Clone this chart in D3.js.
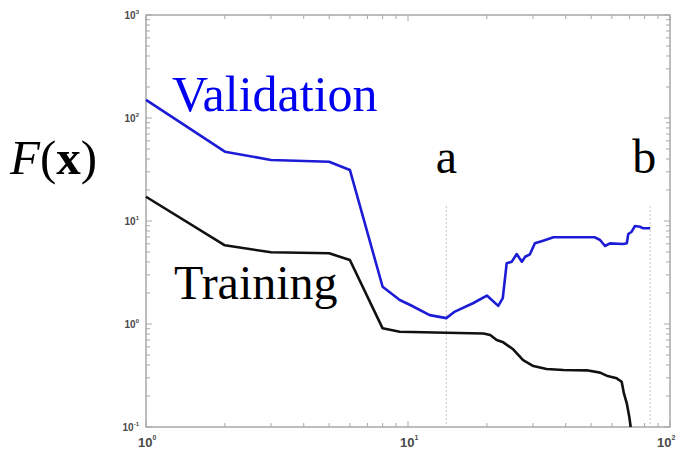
<!DOCTYPE html>
<html>
<head>
<meta charset="utf-8">
<script src="https://cdn.jsdelivr.net/npm/d3@7/dist/d3.min.js"></script>
<style>
  html, body { margin: 0; padding: 0; background: #fff; }
  svg { display: block; }
</style>
</head>
<body>
<svg id="chart" width="676" height="449"></svg>
<script>
// Validation error curve F(x)
const validationX = [1, 2, 3, 5, 6, 8, 9.3, 10.2, 12.1, 14, 15.1, 17.7, 20, 22.1, 23, 23.8, 24.9, 26, 27.2, 28, 29.2, 30.5, 32.8, 35.9, 44, 51.7, 54.1, 56.5, 59, 66.3, 68.4, 69.3, 71.4, 73.5, 76.8, 79.1, 84];
const validationF = [150, 47.1, 39.1, 37.6, 31.3, 2.3, 1.71, 1.53, 1.22, 1.14, 1.32, 1.59, 1.89, 1.5, 1.78, 3.88, 4.03, 4.78, 4.03, 4.5, 4.75, 6.07, 6.44, 6.95, 6.95, 6.95, 6.54, 5.72, 6.07, 5.98, 6.07, 7.48, 7.87, 8.94, 8.8, 8.49, 8.49];

// Training error curve F(x)
const trainingX = [1, 2, 3, 5, 6, 8, 9.3, 14, 19.4, 20.6, 21.8, 23.1, 25.2, 27.5, 30.1, 33.8, 39.2, 48.1, 54.1, 57.3, 62.6, 65.4, 66.7, 68.4, 69.9, 70.8];
const trainingF = [17.2, 5.81, 4.97, 4.86, 4.18, 0.908, 0.842, 0.823, 0.809, 0.782, 0.699, 0.664, 0.568, 0.447, 0.391, 0.366, 0.358, 0.355, 0.337, 0.315, 0.297, 0.275, 0.212, 0.17, 0.126, 0.1];

// Marked iterations and their labels
const markerX = [14, 84];
const markerLabels = ["a", "b"];
const markerTopF = 14;

// Axis extents and decade tick labels
const xDomain = [1, 100];
const yDomain = [0.1, 1000];
const xDecades = [0, 1, 2];
const yDecades = [-1, 0, 1, 2, 3];

(function draw() {
  const svg = d3.select("#chart");
  const pLeft = 146, pRight = 670, pTop = 15, pBottom = 427;

  const x = d3.scaleLog().domain(xDomain).range([pLeft, pRight]);
  const y = d3.scaleLog().domain(yDomain).range([pBottom, pTop]);

  const axisColor = "#a8a8a8";
  const labelColor = "#4a4a4a";

  // Minor and major ticks on all four sides, pointing inward
  const xTicks = x.ticks();
  const yTicks = y.ticks();
  const isMajor = v => Math.abs(Math.log10(v) - Math.round(Math.log10(v))) < 1e-9;
  const tickLen = v => isMajor(v) ? 6 : 4;

  const ticks = svg.append("g").attr("stroke", axisColor).attr("stroke-width", 1);
  ticks.append("g").selectAll("line").data(xTicks).join("line")
    .attr("x1", d => x(d)).attr("x2", d => x(d))
    .attr("y1", pBottom).attr("y2", d => pBottom - tickLen(d));
  ticks.append("g").selectAll("line").data(xTicks).join("line")
    .attr("x1", d => x(d)).attr("x2", d => x(d))
    .attr("y1", pTop).attr("y2", d => pTop + tickLen(d));
  ticks.append("g").selectAll("line").data(yTicks).join("line")
    .attr("y1", d => y(d)).attr("y2", d => y(d))
    .attr("x1", pLeft).attr("x2", d => pLeft + tickLen(d));
  ticks.append("g").selectAll("line").data(yTicks).join("line")
    .attr("y1", d => y(d)).attr("y2", d => y(d))
    .attr("x1", pRight).attr("x2", d => pRight - tickLen(d));

  // Frame
  svg.append("rect")
    .attr("x", pLeft).attr("y", pTop)
    .attr("width", pRight - pLeft).attr("height", pBottom - pTop)
    .attr("fill", "none").attr("stroke", axisColor).attr("stroke-width", 1.5);

  // Decade labels
  const labs = svg.append("g")
    .attr("font-family", "Arial, 'Liberation Sans', sans-serif")
    .attr("font-weight", "bold").attr("fill", labelColor);
  yDecades.forEach(p => {
    const t = labs.append("text")
      .attr("x", pLeft - 7).attr("y", y(Math.pow(10, p)) + 4)
      .attr("text-anchor", "end").attr("font-size", 10);
    t.append("tspan").text("10");
    t.append("tspan").attr("font-size", 6).attr("dy", -5).text(p);
  });
  xDecades.forEach((p, i) => {
    // the last label sits against the window edge, so it is pulled in to stay whole
    const last = i === xDecades.length - 1;
    const t = labs.append("text")
      .attr("x", last ? 657 : x(Math.pow(10, p)) - 8).attr("y", 447)
      .attr("text-anchor", "start").attr("font-size", 13);
    t.append("tspan").text("10");
    t.append("tspan").attr("font-size", 7).attr("dy", -7).text(p);
  });

  // Dotted marker lines
  svg.append("g").selectAll("line").data(markerX).join("line")
    .attr("x1", d => x(d)).attr("x2", d => x(d))
    .attr("y1", y(markerTopF)).attr("y2", pBottom)
    .attr("stroke", "#c4c4c4").attr("stroke-width", 1)
    .attr("stroke-dasharray", "2,2");

  // Curves
  const line = d3.line().x(d => x(d[0])).y(d => y(d[1]));
  svg.append("path")
    .datum(trainingX.map((v, i) => [v, trainingF[i]]))
    .attr("d", line).attr("fill", "none")
    .attr("stroke", "#111").attr("stroke-width", 2.6)
    .attr("stroke-linejoin", "round");
  svg.append("path")
    .datum(validationX.map((v, i) => [v, validationF[i]]))
    .attr("d", line).attr("fill", "none")
    .attr("stroke", "#1c1cd6").attr("stroke-width", 2.6)
    .attr("stroke-linejoin", "round");

  // Annotations
  const serif = "'Liberation Serif', 'Times New Roman', serif";
  svg.append("text").attr("x", 172).attr("y", 111)
    .attr("font-family", serif).attr("font-size", 50).attr("fill", "#0000f0")
    .text("Validation");
  svg.append("text").attr("x", 174).attr("y", 299)
    .attr("font-family", serif).attr("font-size", 48).attr("fill", "#000")
    .text("Training");
  svg.append("g").selectAll("text").data(markerLabels).join("text")
    .attr("x", (d, i) => i === 0 ? x(markerX[i]) : x(markerX[i]) - 6)
    .attr("y", 173)
    .attr("text-anchor", "middle")
    .attr("font-family", serif).attr("font-size", 48).attr("fill", "#000")
    .text(d => d);

  const fx = svg.append("text").attr("x", 10).attr("y", 174)
    .attr("font-family", serif).attr("font-size", 49).attr("fill", "#000");
  fx.append("tspan").attr("font-style", "italic").text("F");
  fx.append("tspan").text("(");
  fx.append("tspan").attr("font-weight", "bold").text("x");
  fx.append("tspan").text(")");
})();
</script>
</body>
</html>
